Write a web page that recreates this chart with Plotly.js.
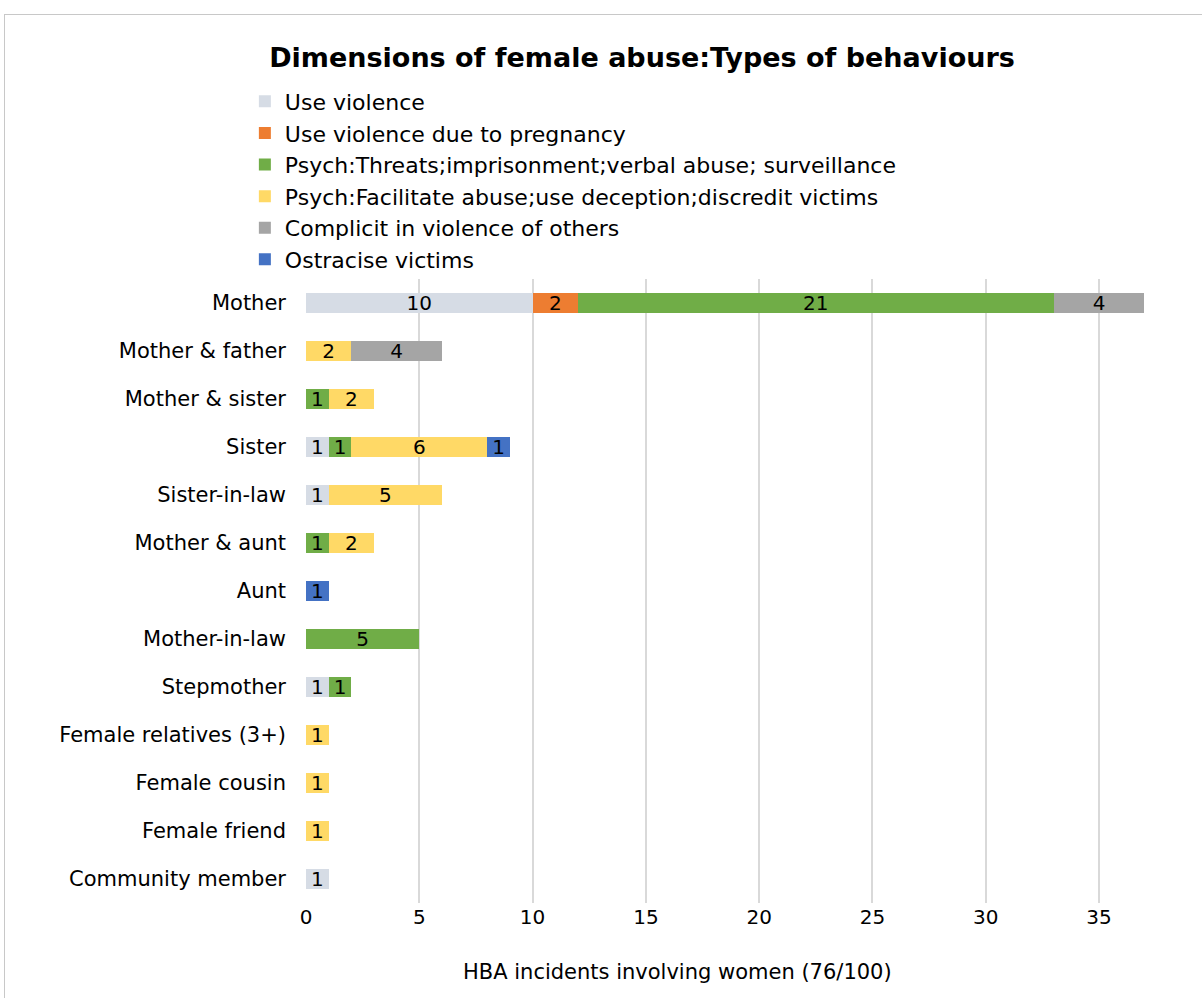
<!DOCTYPE html>
<html>
<head>
<meta charset="utf-8">
<script src="https://cdn.plot.ly/plotly-3.0.1.min.js"></script>
<style>
  html, body { margin: 0; padding: 0; background: #fff; }
  #wrap { position: relative; width: 1202px; height: 998px; }
  #chart { width: 1202px; height: 998px; }
  #frame { position: absolute; left: 4px; top: 14px; width: 1210px; height: 1000px;
           border: 1px solid #c8c8c8; pointer-events: none; box-sizing: border-box; }
</style>
</head>
<body>
<div id="wrap">
  <div id="chart"></div>
  <div id="frame"></div>
</div>
<script>
const categories = ["Mother", "Mother & father", "Mother & sister", "Sister", "Sister-in-law",
  "Mother & aunt", "Aunt", "Mother-in-law", "Stepmother", "Female relatives (3+)",
  "Female cousin", "Female friend", "Community member"];

const seriesNames = ["Use violence", "Use violence due to pregnancy",
  "Psych:Threats;imprisonment;verbal abuse; surveillance",
  "Psych:Facilitate abuse;use deception;discredit victims",
  "Complicit in violence of others", "Ostracise victims"];

const useViolence   = [10, null, null, 1, 1, null, null, null, 1, null, null, null, 1];
const pregnancy     = [2, null, null, null, null, null, null, null, null, null, null, null, null];
const threats       = [21, null, 1, 1, null, 1, null, 5, 1, null, null, null, null];
const facilitate    = [null, 2, 2, 6, 5, 2, null, null, null, 1, 1, 1, null];
const complicit     = [4, 4, null, null, null, null, null, null, null, null, null, null, null];
const ostracise     = [null, null, null, 1, null, null, 1, null, null, null, null, null, null];

const xTickVals = [0, 5, 10, 15, 20, 25, 30, 35];
const xAxisTitle = "HBA incidents involving women (76/100)";
const chartTitle = "Dimensions of female abuse:Types of behaviours";

const seriesValues = [useViolence, pregnancy, threats, facilitate, complicit, ostracise];
const colors = ["#D6DCE5", "#ED7D31", "#70AD47", "#FFD966", "#A5A5A5", "#4472C4"];

const FONT = "'DejaVu Sans', sans-serif";

const traces = seriesNames.map((name, i) => ({
  type: "bar",
  orientation: "h",
  name: name,
  y: categories,
  x: seriesValues[i],
  marker: { color: colors[i], line: { width: 0 } },
  texttemplate: "%{x}",
  textposition: "inside",
  insidetextanchor: "middle",
  textangle: 0,
  constraintext: "none",
  textfont: { family: FONT, size: 20, color: "#000000" },
  hoverinfo: "x+y+name"
}));

const layout = {
  width: 1202,
  height: 998,
  margin: { l: 306, r: 35, t: 279, b: 95 },
  paper_bgcolor: "#ffffff",
  plot_bgcolor: "#ffffff",
  barmode: "stack",
  bargap: 0.58,
  font: { family: FONT, color: "#000000" },
  title: {
    text: "<b>" + chartTitle + "</b>",
    font: { family: FONT, size: 27, color: "#000000" },
    x: 642 / 1202, xref: "container", xanchor: "center",
    y: 1 - 58 / 998, yref: "container", yanchor: "middle"
  },
  showlegend: true,
  legend: {
    x: -0.071, xanchor: "left",
    y: 1.318, yanchor: "top",
    traceorder: "normal",
    font: { family: FONT, size: 22, color: "#000000" },
    bgcolor: "rgba(0,0,0,0)",
    tracegroupgap: 0
  },
  xaxis: {
    range: [0, 38],
    tickvals: xTickVals,
    showgrid: true,
    gridcolor: "#d9d9d9",
    gridwidth: 2,
    zeroline: false,
    showline: false,
    ticks: "",
    ticklabelstandoff: 0,
    tickfont: { family: FONT, size: 20, color: "#000000" }
  },
  yaxis: {
    type: "category",
    autorange: "reversed",
    showgrid: false,
    zeroline: false,
    showline: false,
    ticks: "",
    ticklabelstandoff: 19,
    tickfont: { family: FONT, size: 21, color: "#000000" }
  },
  annotations: [{
    text: xAxisTitle,
    xref: "paper", yref: "paper",
    x: (677 - 306) / 861, xanchor: "center",
    y: -(972 - 903) / 624, yanchor: "middle",
    showarrow: false,
    font: { family: FONT, size: 21, color: "#000000" }
  }]
};

Plotly.newPlot("chart", traces, layout, { displayModeBar: false });
</script>
</body>
</html>
